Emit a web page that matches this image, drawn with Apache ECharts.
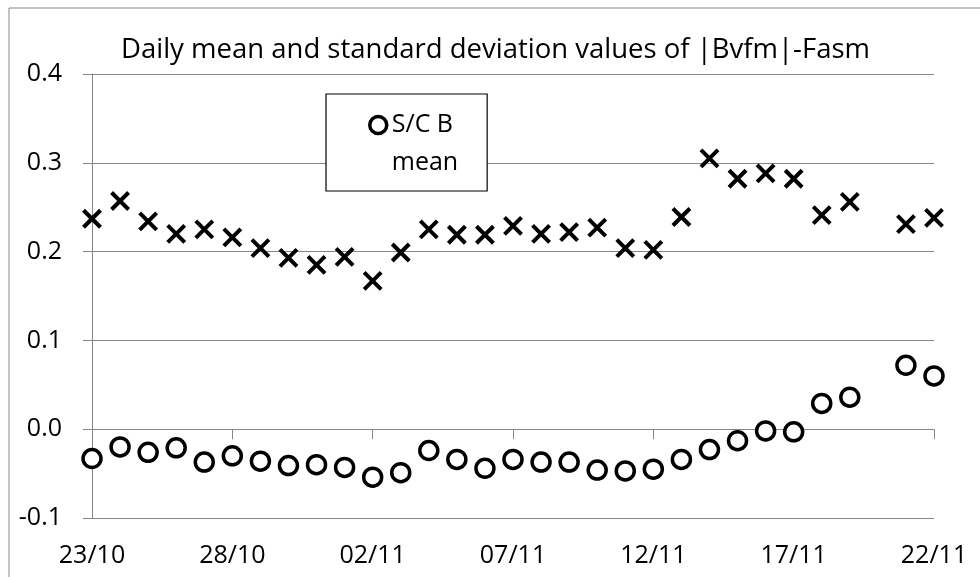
<!DOCTYPE html>
<html lang="en">
<head>
	<meta charset="UTF-8">
	<script src="https://cdn.jsdelivr.net/npm/echarts@6/dist/echarts.min.js"></script>
	<title>Daily mean and standard deviation values of |Bvfm|-Fasm</title>
</head>
<body style="margin:0;background:#fff;">
	<div id="main" style="width:980px;height:577px;"></div>
	<script>
		// days 23/10 .. 22/11
		var days = ['23/10', '24/10', '25/10', '26/10', '27/10', '28/10', '29/10', '30/10', '31/10',
			'01/11', '02/11', '03/11', '04/11', '05/11', '06/11', '07/11', '08/11', '09/11', '10/11',
			'11/11', '12/11', '13/11', '14/11', '15/11', '16/11', '17/11', '18/11', '19/11', '20/11',
			'21/11', '22/11'];

		// S/C B daily mean (circles), 20/11 missing
		var meanB = [-0.033, -0.020, -0.026, -0.021, -0.037, -0.030, -0.036, -0.041, -0.040, -0.043,
			-0.054, -0.049, -0.024, -0.034, -0.044, -0.034, -0.037, -0.037, -0.046, -0.047,
			-0.045, -0.034, -0.023, -0.013, -0.002, -0.003, 0.029, 0.036, null, 0.072, 0.060];

		// S/C B daily standard deviation (crosses)
		var stdB = [0.237, 0.257, 0.234, 0.220, 0.225, 0.216, 0.204, 0.193, 0.185, 0.194,
			0.167, 0.199, 0.225, 0.219, 0.219, 0.229, 0.220, 0.222, 0.227, 0.204,
			0.202, 0.239, 0.305, 0.282, 0.288, 0.282, 0.241, 0.256, null, 0.231, 0.238];

		var yMin = -0.1, yMax = 0.4, yStep = 0.1;

		var font = '"Open Sans", sans-serif';
		var gray = '#868686';

		var chart = echarts.init(document.getElementById('main'));

		chart.setOption({
			animation: false,
			backgroundColor: '#fff',
			textStyle: { fontFamily: font },
			title: {
				text: 'Daily mean and standard deviation values of |Bvfm|-Fasm',
				left: 121,
				top: 36,
				padding: 0,
				textStyle: { fontSize: 27.5, fontWeight: 'normal', color: '#000', fontFamily: font }
			},
			graphic: [{
				type: 'rect',
				shape: { x: 9, y: 8, width: 1000, height: 620 },
				style: { fill: 'none', stroke: gray, lineWidth: 1 },
				silent: true
			}],
			legend: {
				data: [{ name: 'S/C B mean' }],
				// leading empty line keeps the marker level with "S/C B"
				formatter: function () { return '\nS/C B\nmean'; },
				left: 326,
				top: 94,
				padding: [-26, 29, 9, 42],
				itemWidth: 17,
				itemHeight: 17,
				itemGap: 0,
				itemStyle: { color: '#fff', borderColor: '#000', borderWidth: 3.5, opacity: 1 },
				borderColor: '#000',
				borderWidth: 1.2,
				backgroundColor: '#fff',
				textStyle: { fontSize: 25, color: '#000', lineHeight: 38, fontFamily: font }
			},
			grid: { left: 92, right: 46, top: 74, bottom: 59 },
			xAxis: {
				type: 'category',
				data: days,
				boundaryGap: false,
				axisLine: { lineStyle: { color: gray, width: 1 } },
				axisTick: { interval: 4, length: 10, lineStyle: { color: gray } },
				axisLabel: { interval: 4, fontSize: 25, color: '#000', margin: 25, fontFamily: font },
				splitLine: { show: false }
			},
			yAxis: {
				type: 'value',
				min: yMin,
				max: yMax,
				interval: yStep,
				axisLine: { show: true, lineStyle: { color: gray, width: 1 } },
				axisTick: { show: true, length: 9, lineStyle: { color: gray } },
				axisLabel: {
					fontSize: 25, color: '#000', margin: 30, fontFamily: font,
					formatter: function (v) { return v.toFixed(1); }
				},
				splitLine: { lineStyle: { color: gray, width: 1 } }
			},
			series: [
				{
					name: 'S/C B mean',
					type: 'scatter',
					data: meanB,
					symbol: 'circle',
					symbolSize: 18,
					itemStyle: { color: '#fff', borderColor: '#000', borderWidth: 3.5, opacity: 1 },
					z: 3
				},
				{
					name: 'S/C B std',
					type: 'scatter',
					data: stdB,
					symbol: 'path://M0,0L10,10M10,0L0,10',
					symbolSize: 17,
					itemStyle: { color: 'none', borderColor: '#000', borderWidth: 4, opacity: 1 },
					z: 3
				}
			]
		});
	</script>
</body>
</html>
